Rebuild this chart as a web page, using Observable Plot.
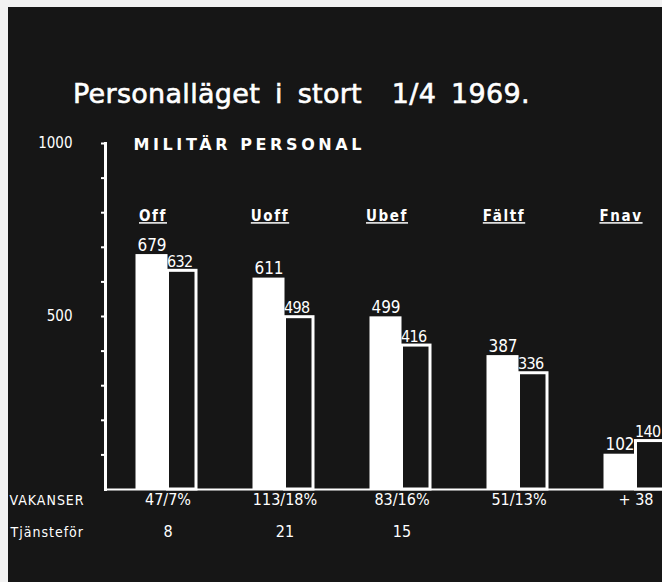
<!DOCTYPE html>
<html><head><meta charset="utf-8">
<script src="https://cdn.jsdelivr.net/npm/d3@7"></script>
<script src="https://cdn.jsdelivr.net/npm/@observablehq/plot@0.6"></script>
<style>
html,body{margin:0;padding:0;background:#161616;}
#page{position:relative;width:662px;height:582px;background:#161616;overflow:hidden;}
#border{position:absolute;left:0;top:0;width:662px;height:582px;box-shadow:inset 8px 7px 0 0 #f2f2f2;pointer-events:none;}
#title{height:118px;box-sizing:border-box;padding:80px 0 0 73px;font:27px/27px "DejaVu Sans",sans-serif;color:#fff;white-space:pre;word-spacing:6px;letter-spacing:0.3px;-webkit-text-stroke:0.6px #fff;}
.category text, text.category{letter-spacing:1.6px;text-decoration:underline;text-decoration-thickness:2px;text-underline-offset:4px;}
.subtitle text, text.subtitle{letter-spacing:3.6px;}
.rowlabel text, text.rowlabel{letter-spacing:1px;}
.outlinelab text, text.outlinelab{letter-spacing:-0.7px;}
</style>
</head><body>
<div id="page"><div id="title">Personalläget i stort  1/4 1969.</div><div id="chart"></div><div id="border"></div></div>
<script>
const categories = ["Off", "Uoff", "Ubef", "Fältf", "Fnav"];
const organisation = [679, 611, 499, 387, 102];
const tillgang = [632, 498, 416, 336, 140];
const vakanser = ["47/7%", "113/18%", "83/16%", "51/13%", "+ 38"];
const tjanstefor = ["8", "21", "15", null, null];
const yTicks = [100, 200, 300, 400, 500, 600, 700, 800, 900, 1000];
const yLabels = [500, 1000];
const subtitle = "MILITÄR PERSONAL";
const rowLabels = ["VAKANSER", "Tjänsteför"];

const rows = categories.map((c, i) => ({cat: c, org: organisation[i], till: tillgang[i], vak: vakanser[i], tj: tjanstefor[i]}));
const bg = "#161616";
const cond = '"DejaVu Sans Condensed","Liberation Sans Narrow","DejaVu Sans",sans-serif';

const chart = Plot.plot({
  width: 662, height: 464,
  marginLeft: 105, marginRight: 0, marginTop: 25, marginBottom: 93,
  style: {background: "transparent", color: "#fff", fontFamily: cond, overflow: "visible"},
  x: {domain: categories, range: [108.5, 693.5], padding: 0, axis: null},
  y: {domain: [0, 1000], axis: null},
  marks: [
    Plot.axisY(yTicks, {anchor: "left", tickSize: 4, tickPadding: 29, strokeWidth: 2,
      tickFormat: d => yLabels.includes(d) ? String(d) : "", fontSize: 15, fontFamily: cond}),
    Plot.frame({anchor: "left", stroke: "#fff", strokeWidth: 3}),
    Plot.barY(rows, {x: "cat", y: "org", fill: "#fff", insetLeft: 26.5, insetRight: 58.5}),
    Plot.barY(rows, {x: "cat", y: "till", fill: bg, stroke: "#fff", strokeWidth: 3, insetLeft: 58.5, insetRight: 30}),
    Plot.ruleY([0], {stroke: "#fff", strokeWidth: 2}),
    Plot.text(rows, {x: "cat", y: "org", text: d => String(d.org), dx: -16, dy: -4, lineAnchor: "bottom", fontSize: 17}),
    Plot.text(rows, {x: "cat", y: "till", text: d => String(d.till), dx: -1, dy: -4, textAnchor: "start", lineAnchor: "bottom", fontSize: 16, className: "outlinelab"}),
    Plot.text(rows, {x: "cat", text: "cat", frameAnchor: "top", dx: -15, dy: 67, fontSize: 15, fontWeight: "bold", className: "category"}),
    Plot.text([subtitle], {frameAnchor: "top-left", dx: 28, dy: -5, textAnchor: "start", fontSize: 16, fontWeight: "bold", fontFamily: '"DejaVu Sans",sans-serif', className: "subtitle"}),
    Plot.text(rows, {x: "cat", text: "vak", frameAnchor: "bottom", dy: 15, fontSize: 16}),
    Plot.text(rows.filter(d => d.tj), {x: "cat", text: "tj", frameAnchor: "bottom", dy: 47, fontSize: 16}),
    Plot.text([rowLabels[0]], {frameAnchor: "bottom-left", dx: -96, dy: 15, textAnchor: "start", fontSize: 14, className: "rowlabel"}),
    Plot.text([rowLabels[1]], {frameAnchor: "bottom-left", dx: -95, dy: 47, textAnchor: "start", fontSize: 14, className: "rowlabel"})
  ]
});
document.getElementById("chart").appendChild(chart);
</script>
</body></html>
